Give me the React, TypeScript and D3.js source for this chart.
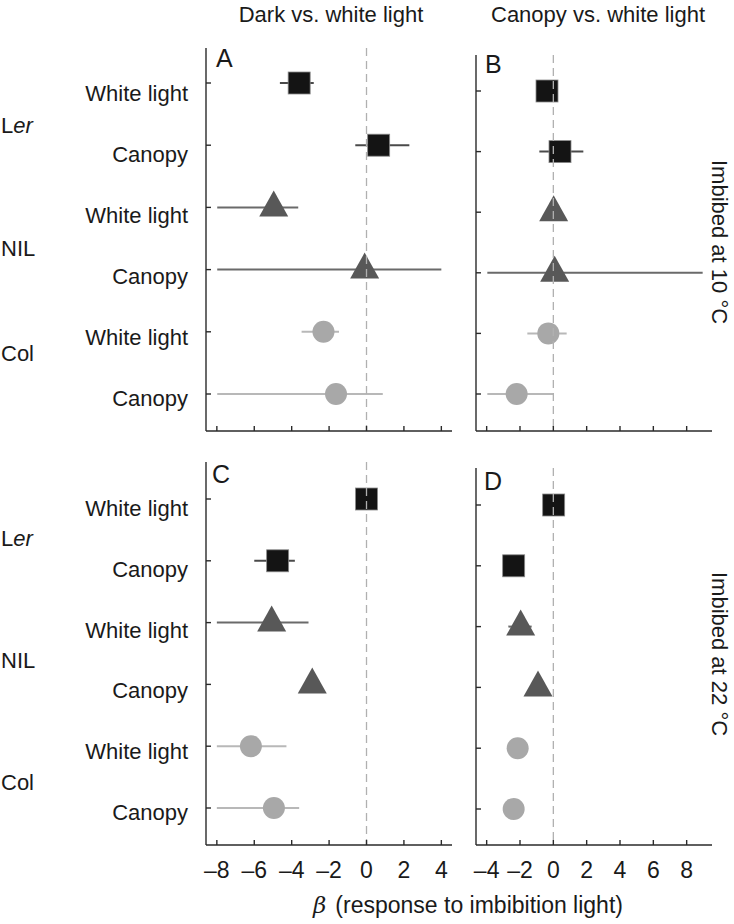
import React from "react";
import * as d3 from "d3";

// ---------- data ----------
const rowLabels = ["White light", "Canopy", "White light", "Canopy", "White light", "Canopy"];
const genotypes = ["Ler", "NIL", "Col"];
const markerShapes = ["square", "square", "triangle", "triangle", "circle", "circle"];

const panelA_est = [-3.6, 0.65, -4.96, -0.1, -2.3, -1.63];
const panelA_lo = [-4.63, -0.6, -7.98, -7.98, -3.47, -7.98];
const panelA_hi = [-2.82, 2.29, -3.65, 4.0, -1.47, 0.87];

const panelB_est = [-0.38, 0.4, 0.02, 0.08, -0.3, -2.2];
const panelB_lo = [null, -0.84, null, -3.96, -1.56, -3.96];
const panelB_hi = [null, 1.8, null, 8.96, 0.8, 0];

const panelC_est = [0.0, -4.75, -5.07, -2.9, -6.18, -4.95];
const panelC_lo = [null, -6.0, -8.0, null, -8.0, -8.0];
const panelC_hi = [null, -3.83, -3.1, null, -4.28, -3.6];

const panelD_est = [0.02, -2.38, -1.96, -0.92, -2.14, -2.38];
const panelD_lo = [null, null, -2.7, null, null, null];
const panelD_hi = [null, null, -1.3, null, null, null];

const ticksLeftCol = [-8, -6, -4, -2, 0, 2, 4];
const ticksRightCol = [-4, -2, 0, 2, 4, 6, 8];
const panelLetters = ["A", "B", "C", "D"];
const columnTitles = ["Dark vs. white light", "Canopy vs. white light"];
const rowTitles = ["Imbibed at 10 °C", "Imbibed at 22 °C"];
const xAxisTitle = "(response to imbibition light)";

// ---------- styles ----------
const FONT = "'Liberation Sans', Arial, Helvetica, sans-serif";
const AXIS = "#2a2a2a";
const TXT = "#1a1a1a";
const shapeStyle: Record<string, { fill: string; stroke: string; bar: string }> = {
  square: { fill: "#141414", stroke: "#8a8a8a", bar: "#4a4a4a" },
  triangle: { fill: "#585858", stroke: "#585858", bar: "#6a6a6a" },
  circle: { fill: "#a8a8a8", stroke: "#a8a8a8", bar: "#b8b8b8" },
};

type Panel = {
  letter: string;
  est: number[];
  lo: (number | null)[];
  hi: (number | null)[];
  ticks: number[];
  domain: [number, number];
  x0: number;
  x1: number;
  yTop: number;
  yBottom: number;
  rowRange: [number, number];
  letterPos: [number, number];
  showTickLabels: boolean;
};

const rowKeys = rowLabels.map((_, i) => String(i));

function Marker({ shape, cx, cy }: { shape: string; cx: number; cy: number }) {
  const s = shapeStyle[shape];
  if (shape === "square") {
    const h = 11;
    return <rect x={cx - h} y={cy - h} width={2 * h} height={2 * h} fill={s.fill} stroke={s.stroke} strokeWidth={0.8} />;
  }
  if (shape === "triangle") {
    const path = d3.path();
    path.moveTo(cx, cy - 17);
    path.lineTo(cx + 14.5, cy + 9);
    path.lineTo(cx - 14.5, cy + 9);
    path.closePath();
    return <path d={path.toString()} fill={s.fill} />;
  }
  return <circle cx={cx} cy={cy} r={11} fill={s.fill} />;
}

function PanelView({ p }: { p: Panel }) {
  const x = d3.scaleLinear().domain(p.domain).range([p.x0, p.x1]);
  const y = d3.scalePoint<string>().domain(rowKeys).range(p.rowRange);
  return (
    <g>
      {p.est.map((v, i) => {
        const lo = p.lo[i];
        const hi = p.hi[i];
        if (lo == null || hi == null) return null;
        const yy = y(String(i))!;
        return (
          <line key={"e" + i} x1={x(lo)} x2={x(hi)} y1={yy} y2={yy}
            stroke={shapeStyle[markerShapes[i]].bar} strokeWidth={2} />
        );
      })}
      {p.est.map((v, i) => (
        <Marker key={"m" + i} shape={markerShapes[i]} cx={x(v)} cy={y(String(i))!} />
      ))}
      <line x1={x(0)} x2={x(0)} y1={p.yTop} y2={p.yBottom} stroke="#b0b0b0" strokeWidth={1.3} strokeDasharray="8,5" />
      <line x1={p.x0} x2={p.x0} y1={p.yTop} y2={p.yBottom} stroke={AXIS} strokeWidth={1.4} />
      {rowKeys.map((k) => (
        <line key={"yt" + k} x1={p.x0} x2={p.x0 + 5} y1={y(k)} y2={y(k)} stroke={AXIS} strokeWidth={1.4} />
      ))}
      <line x1={p.x0} x2={p.x1} y1={p.yBottom} y2={p.yBottom} stroke={AXIS} strokeWidth={1.4} />
      {p.ticks.map((t) => (
        <g key={"xt" + t}>
          <line x1={x(t)} x2={x(t)} y1={p.yBottom} y2={p.yBottom - 5} stroke={AXIS} strokeWidth={1.4} />
          {p.showTickLabels && (
            <text x={x(t)} y={p.yBottom + 33} textAnchor="middle" fontSize={23} fill={TXT}>
              {t < 0 ? "\u2013" + Math.abs(t) : String(t)}
            </text>
          )}
        </g>
      ))}
      <text x={p.letterPos[0]} y={p.letterPos[1]} fontSize={25} fill={TXT}>{p.letter}</text>
    </g>
  );
}

export default function App() {
  const panels: Panel[] = [
    { letter: panelLetters[0], est: panelA_est, lo: panelA_lo, hi: panelA_hi, ticks: ticksLeftCol, domain: [-8.58, 4.57], x0: 206, x1: 452, yTop: 48, yBottom: 431, rowRange: [83, 394], letterPos: [216, 67], showTickLabels: false },
    { letter: panelLetters[1], est: panelB_est, lo: panelB_lo, hi: panelB_hi, ticks: ticksRightCol, domain: [-4.64, 9.52], x0: 476, x1: 712, yTop: 55, yBottom: 431, rowRange: [91, 394], letterPos: [485, 73], showTickLabels: false },
    { letter: panelLetters[2], est: panelC_est, lo: panelC_lo, hi: panelC_hi, ticks: ticksLeftCol, domain: [-8.58, 4.57], x0: 206, x1: 452, yTop: 462, yBottom: 845, rowRange: [499, 808], letterPos: [212, 483], showTickLabels: true },
    { letter: panelLetters[3], est: panelD_est, lo: panelD_lo, hi: panelD_hi, ticks: ticksRightCol, domain: [-4.64, 9.52], x0: 476, x1: 712, yTop: 468, yBottom: 845, rowRange: [505, 809], letterPos: [484, 490], showTickLabels: true },
  ];

  const labelRanges: [number, number][] = [[93, 398], [508, 812]];
  const groupCenters = [[125, 248, 353], [538, 660, 782]];

  return (
    <svg width={734} height={924} style={{ position: "absolute", left: 0, top: 0, background: "#fff" }}
      fontFamily={FONT}>
      <rect x={0} y={0} width={734} height={924} fill="#fff" />
      <text x={331} y={22} textAnchor="middle" fontSize={22} fill={TXT}>{columnTitles[0]}</text>
      <text x={598} y={22} textAnchor="middle" fontSize={22} fill={TXT}>{columnTitles[1]}</text>

      {labelRanges.map((r, bi) => {
        const ly = d3.scalePoint<string>().domain(rowKeys).range(r);
        return (
          <g key={"lb" + bi}>
            {rowLabels.map((lab, i) => (
              <text key={i} x={188} y={ly(String(i))! + 8} textAnchor="end" fontSize={22} fill={TXT}>{lab}</text>
            ))}
            {genotypes.map((g, gi) => (
              <text key={g} x={1} y={groupCenters[bi][gi] + 8} fontSize={22} fill={TXT}>
                {g === "Ler" ? (<><tspan>L</tspan><tspan fontStyle="italic">er</tspan></>) : g}
              </text>
            ))}
          </g>
        );
      })}

      {panels.map((p) => <PanelView key={p.letter} p={p} />)}

      <text transform="translate(712,242) rotate(90)" textAnchor="middle" fontSize={22} fill={TXT}>{rowTitles[0]}</text>
      <text transform="translate(712,654) rotate(90)" textAnchor="middle" fontSize={22} fill={TXT}>{rowTitles[1]}</text>

      <text x={468} y={913} textAnchor="middle" fontSize={23} fill={TXT}>
        <tspan fontStyle="italic" fontFamily="'DejaVu Serif', serif">β</tspan>
        <tspan dx={9}>{xAxisTitle}</tspan>
      </text>
    </svg>
  );
}
